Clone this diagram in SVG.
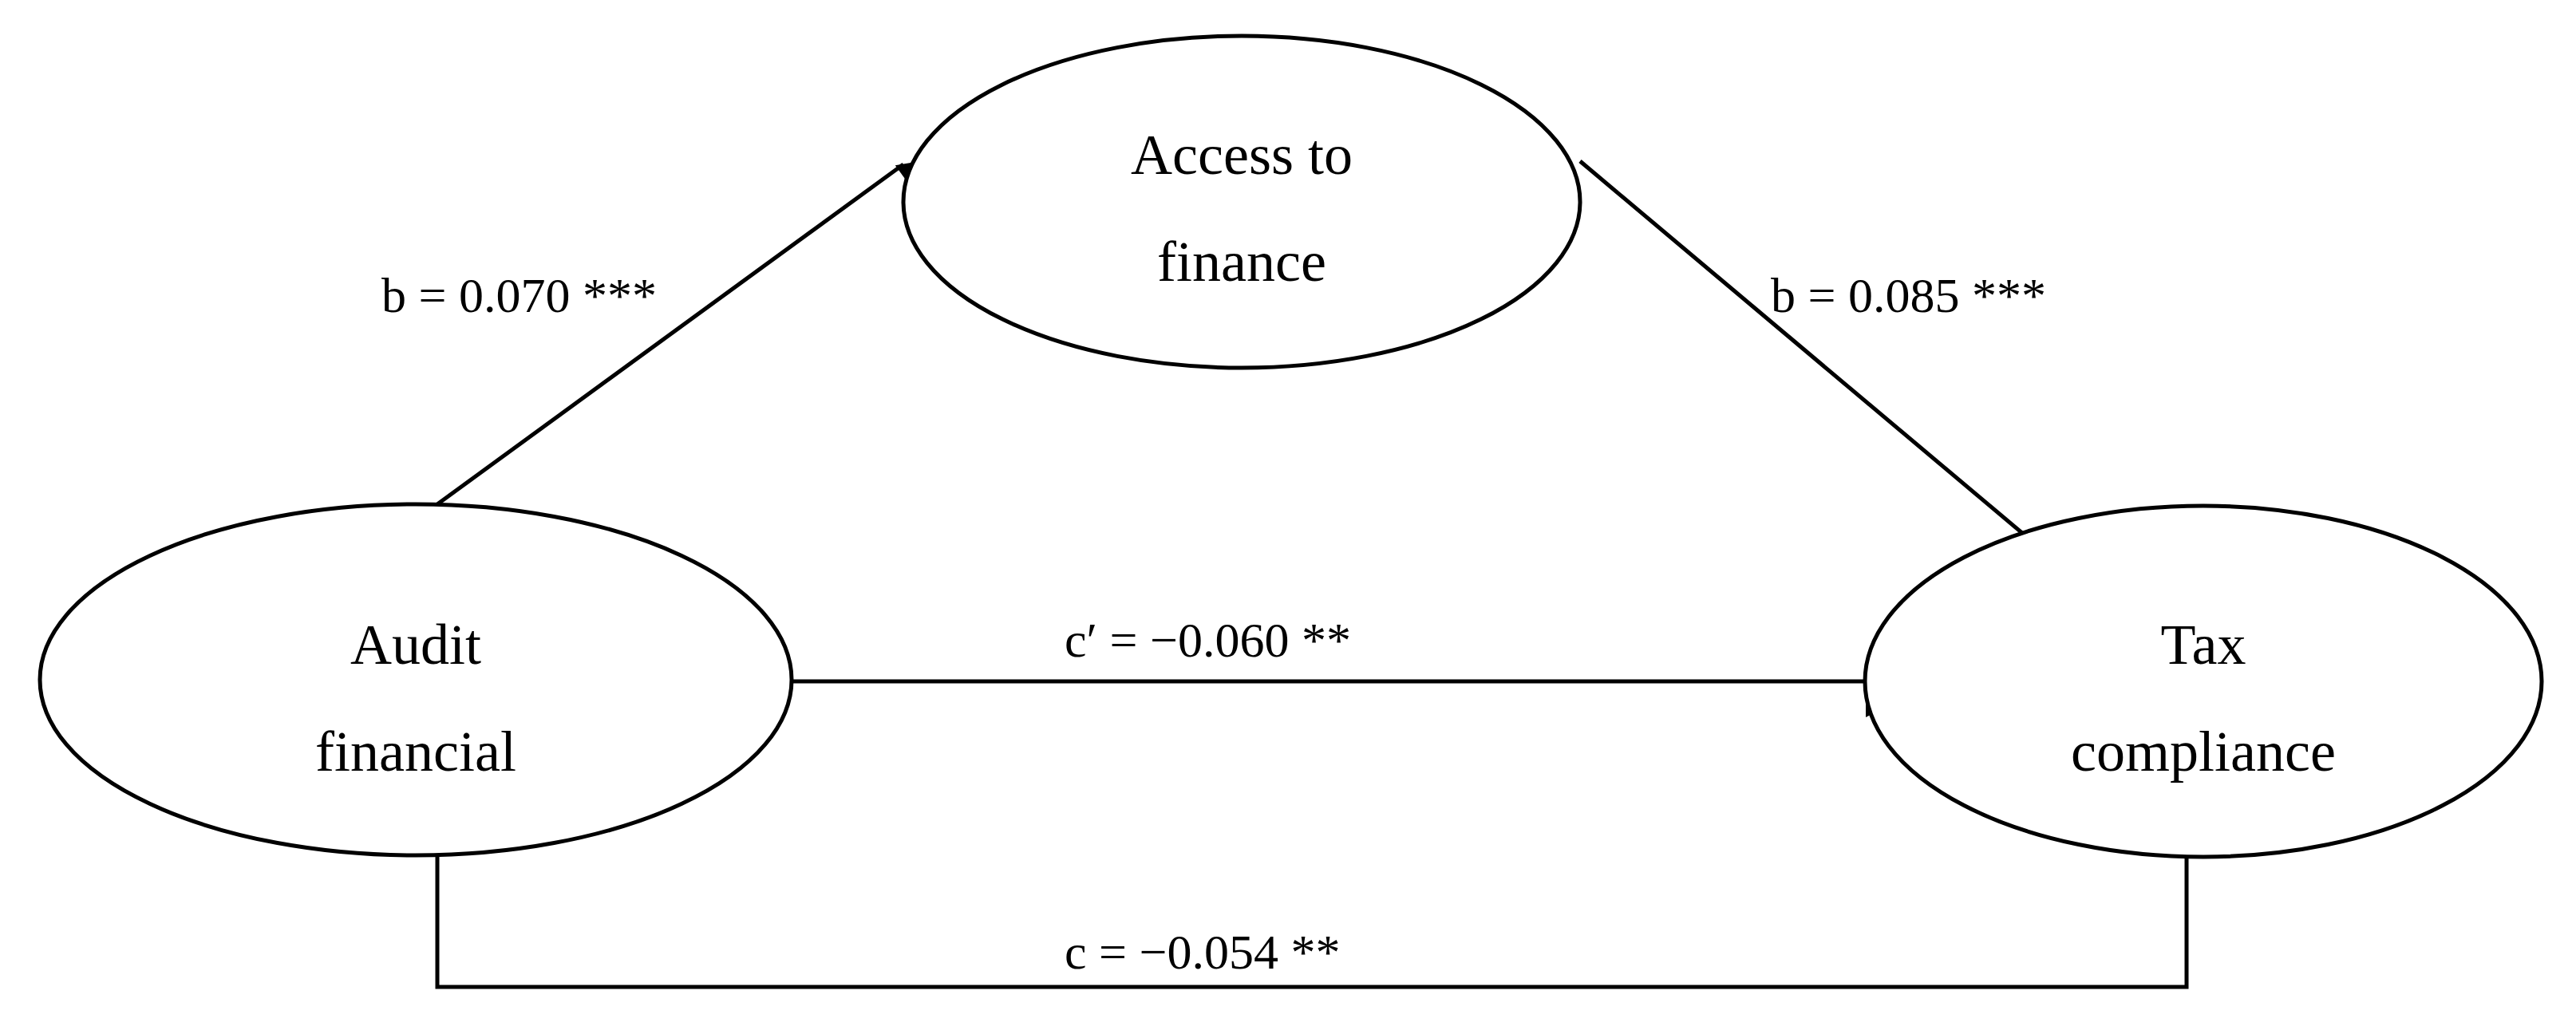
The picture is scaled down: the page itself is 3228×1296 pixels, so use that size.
<svg xmlns="http://www.w3.org/2000/svg" width="3228" height="1296" viewBox="0 0 3228 1296">
<style>
.n{fill:#fff;stroke:#000;stroke-width:5}
.t{font-family:"Liberation Serif",serif;font-size:72px;text-anchor:middle;fill:#000}
.l{font-family:"Liberation Serif",serif;font-size:62px;fill:#000}
.c{stroke:#000;stroke-width:5;fill:none}
</style>
<defs><marker id="a" markerWidth="10" markerHeight="10" refX="9" refY="5" orient="auto" markerUnits="userSpaceOnUse" viewBox="0 0 10 10" style="overflow:visible"><path d="M0,0 L10,5 L0,10 z" fill="#000" transform="scale(5)"/></marker></defs>
<rect width="3228" height="1296" fill="#fff"/>
<g id="connectors">
<line class="c" x1="548" y1="632" x2="1132" y2="206" marker-end="url(#a)"/>
<line class="c" x1="1980" y1="202" x2="2547" y2="679" marker-end="url(#a)"/>
<line class="c" x1="992" y1="854" x2="2347" y2="854" marker-end="url(#a)"/>
<polyline class="c" points="548,1074 548,1237 2740,1237 2740,1074"/>
<text class="l" x="478" y="391">b = 0.070 ***</text>
<text class="l" x="2219" y="391">b = 0.085 ***</text>
<text class="l" x="1334" y="823">c′ = −0.060 **</text>
<text class="l" x="1334" y="1214">c = −0.054 **</text>
</g>
<g id="access"><ellipse class="n" cx="1556" cy="253" rx="424" ry="208"/><text class="t" x="1556" y="218">Access to</text><text class="t" x="1556" y="352">finance</text></g>
<g id="audit"><ellipse class="n" cx="521" cy="852" rx="471" ry="220"/><text class="t" x="521" y="832">Audit</text><text class="t" x="521" y="966">financial</text></g>
<g id="tax"><ellipse class="n" cx="2761" cy="854" rx="424" ry="220"/><text class="t" x="2761" y="832">Tax</text><text class="t" x="2761" y="966">compliance</text></g>
</svg>
